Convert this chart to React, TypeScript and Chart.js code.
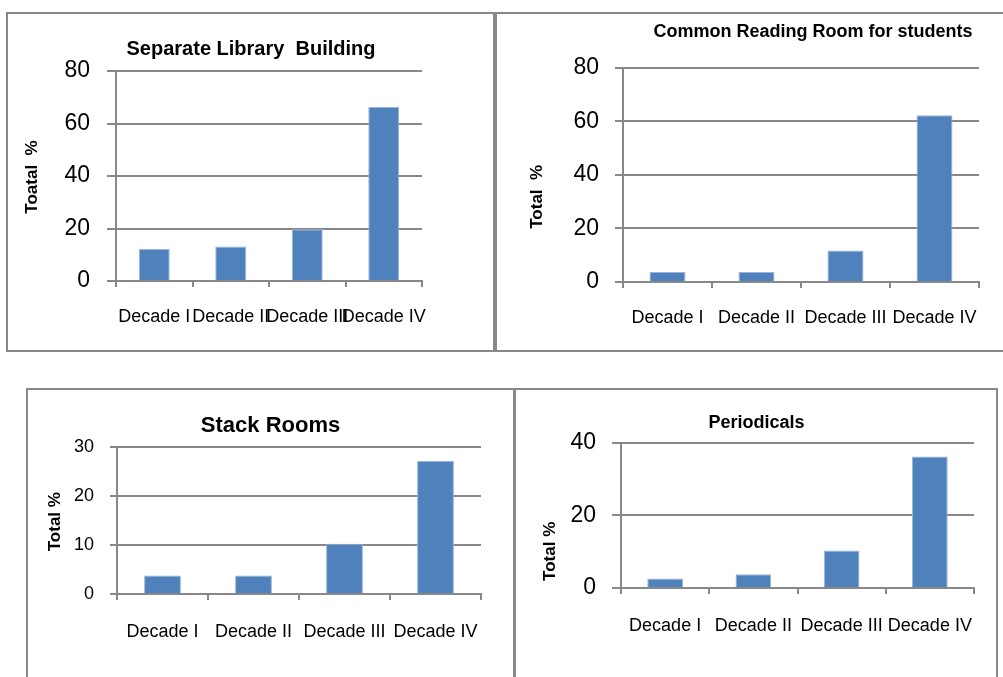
import React, { useEffect, useRef } from 'react';
import { Chart, registerables } from 'chart.js';

Chart.register(...registerables);

// ---------- data ----------
const categories = ['Decade I', 'Decade II', 'Decade III', 'Decade IV'];

const separateLibraryValues = [12.2, 13.1, 19.7, 66.4];
const commonReadingValues = [3.7, 3.7, 11.8, 62.2];
const stackRoomsValues = [3.8, 3.8, 10.3, 27.2];
const periodicalsValues = [2.6, 3.8, 10.3, 36.2];

const separateLibraryTicks = [0, 20, 40, 60, 80];
const commonReadingTicks = [0, 20, 40, 60, 80];
const stackRoomsTicks = [0, 10, 20, 30];
const periodicalsTicks = [0, 20, 40];

// ---------- style ----------
const FONT = "'Liberation Sans', Arial, sans-serif";
const GRID = '#888888';
const BAR = '#4F81BD';
const BAR_EDGE = '#9DB5DA';

type Box = { left: number; top: number; width: number; height: number };
type PanelSpec = {
  title: string;
  yTitle: string;
  values: number[];
  ticks: number[];
  box: Box;
  canvas: Box;
  pad: { left: number; right: number; bottom: number };
  yWidth: number;
  rightWidth: number;
  titleSize: number;
  titlePad: { top: number; bottom: number };
  tickSize: number;
  yTickLen: number;
  yTickPad: number;
  xTickPad: number;
  yTitleDx: number;
  yTitleDy: number;
};

const panels: PanelSpec[] = [
  {
    title: 'Separate Library  Building',
    yTitle: 'Toatal  %',
    values: separateLibraryValues,
    ticks: separateLibraryTicks,
    box: { left: 6, top: 12, width: 489, height: 340 },
    canvas: { left: 8, top: 14, width: 485, height: 336 },
    pad: { left: 52, right: 51, bottom: 9 },
    yWidth: 56,
    rightWidth: 20,
    titleSize: 20,
    titlePad: { top: 23, bottom: 10 },
    tickSize: 23,
    yTickLen: 9,
    yTickPad: 17,
    xTickPad: 19,
    yTitleDx: -84,
    yTitleDy: 1,
  },
  {
    title: 'Common Reading Room for students',
    yTitle: 'Total  %',
    values: commonReadingValues,
    ticks: commonReadingTicks,
    box: { left: 495, top: 12, width: 520, height: 340 },
    canvas: { left: 497, top: 14, width: 562, height: 336 },
    pad: { left: 70, right: 0, bottom: 8 },
    yWidth: 56,
    rightWidth: 80,
    titleSize: 18,
    titlePad: { top: 7, bottom: 25 },
    tickSize: 23,
    yTickLen: 8,
    yTickPad: 16,
    xTickPad: 19,
    yTitleDx: -86,
    yTitleDy: 22,
  },
  {
    title: 'Stack Rooms',
    yTitle: 'Total %',
    values: stackRoomsValues,
    ticks: stackRoomsTicks,
    box: { left: 26, top: 388, width: 489, height: 320 },
    canvas: { left: 28, top: 390, width: 485, height: 287 },
    pad: { left: 32, right: 32, bottom: 23 },
    yWidth: 57,
    rightWidth: 0,
    titleSize: 22,
    titlePad: { top: 23, bottom: 8 },
    tickSize: 18,
    yTickLen: 7,
    yTickPad: 16,
    xTickPad: 21,
    yTitleDx: -62,
    yTitleDy: 1,
  },
  {
    title: 'Periodicals',
    yTitle: 'Total %',
    values: periodicalsValues,
    ticks: periodicalsTicks,
    box: { left: 514, top: 388, width: 484, height: 320 },
    canvas: { left: 517, top: 390, width: 478, height: 287 },
    pad: { left: 22, right: 21, bottom: 29 },
    yWidth: 82,
    rightWidth: 0,
    titleSize: 18,
    titlePad: { top: 22, bottom: 9 },
    tickSize: 23,
    yTickLen: 9,
    yTickPad: 16,
    xTickPad: 21,
    yTitleDx: -71,
    yTitleDy: 36,
  },
];

const yAxisTitlePlugin = {
  id: 'yAxisTitle',
  afterDraw(chart: any, _args: any, opts: any) {
    const { ctx, chartArea } = chart;
    if (!chartArea || !opts || !opts.text) return;
    ctx.save();
    ctx.font = `bold ${opts.size}px ${FONT}`;
    ctx.fillStyle = '#000';
    ctx.textAlign = 'center';
    ctx.textBaseline = 'middle';
    ctx.translate(chartArea.left + opts.dx, (chartArea.top + chartArea.bottom) / 2 + opts.dy);
    ctx.rotate(-Math.PI / 2);
    ctx.fillText(opts.text, 0, 0);
    ctx.restore();
  },
};

function zeroPadding(s: any) {
  s.paddingLeft = 0;
  s.paddingRight = 0;
  s.paddingTop = 0;
  s.paddingBottom = 0;
}

function BarPanel({ spec }: { spec: PanelSpec }) {
  const ref = useRef<HTMLCanvasElement>(null);

  useEffect(() => {
    const canvas = ref.current;
    if (!canvas) return;
    const step = spec.ticks[1] - spec.ticks[0];
    const chart = new Chart(canvas, {
      type: 'bar',
      data: {
        labels: categories,
        datasets: [
          {
            data: spec.values,
            backgroundColor: BAR,
            borderColor: BAR_EDGE,
            borderWidth: 1,
            barPercentage: 0.405,
            categoryPercentage: 1,
            yAxisID: 'y',
          },
        ],
      },
      options: {
        animation: false,
        responsive: false,
        events: [],
        layout: {
          padding: { left: spec.pad.left, right: spec.pad.right, top: 0, bottom: spec.pad.bottom },
        },
        plugins: {
          legend: { display: false },
          tooltip: { enabled: false },
          title: {
            display: true,
            text: spec.title,
            align: 'center',
            color: '#000',
            font: { family: FONT, size: spec.titleSize, weight: 'bold', lineHeight: 1.2 },
            padding: { top: spec.titlePad.top, bottom: spec.titlePad.bottom },
          },
          yAxisTitle: { text: spec.yTitle, dx: spec.yTitleDx, dy: spec.yTitleDy, size: 17 },
        } as any,
        scales: {
          x: {
            offset: true,
            grid: {
              display: true,
              offset: true,
              drawOnChartArea: false,
              drawTicks: true,
              tickLength: 6,
              color: GRID,
              lineWidth: 2,
            },
            border: { display: true, color: GRID, width: 2 },
            ticks: {
              color: '#000',
              font: { family: FONT, size: 18 },
              padding: spec.xTickPad,
              autoSkip: false,
              maxRotation: 0,
              minRotation: 0,
            },
            afterFit: (s: any) => {
              s.height = 60;
              zeroPadding(s);
            },
          },
          y: {
            position: 'left',
            min: spec.ticks[0],
            max: spec.ticks[spec.ticks.length - 1],
            grid: {
              color: GRID,
              lineWidth: 2,
              drawTicks: true,
              tickLength: spec.yTickLen,
            },
            border: { display: true, color: GRID, width: 2 },
            ticks: {
              stepSize: step,
              color: '#000',
              font: { family: FONT, size: spec.tickSize },
              padding: spec.yTickPad,
            },
            afterFit: (s: any) => {
              s.width = spec.yWidth;
              zeroPadding(s);
            },
          },
          // empty spacer on the right so the title centre matches the original layout
          spacer: {
            type: 'linear',
            position: 'right',
            display: true,
            grid: { display: false, drawTicks: false },
            border: { display: false },
            ticks: { display: false },
            afterFit: (s: any) => {
              s.width = spec.rightWidth;
              zeroPadding(s);
            },
          },
        },
      },
      plugins: [yAxisTitlePlugin],
    } as any);
    return () => chart.destroy();
  }, [spec]);

  return (
    <>
      <div
        style={{
          position: 'absolute',
          left: spec.box.left,
          top: spec.box.top,
          width: spec.box.width,
          height: spec.box.height,
          border: `2px solid ${GRID}`,
          boxSizing: 'border-box',
        }}
      />
      <canvas
        ref={ref}
        width={spec.canvas.width}
        height={spec.canvas.height}
        style={{
          position: 'absolute',
          left: spec.canvas.left,
          top: spec.canvas.top,
          width: spec.canvas.width,
          height: spec.canvas.height,
        }}
      />
    </>
  );
}

export default function App() {
  return (
    <div
      style={{
        position: 'absolute',
        left: 0,
        top: 0,
        width: 1003,
        height: 677,
        overflow: 'hidden',
        background: '#fff',
      }}
    >
      {panels.map((p) => (
        <BarPanel key={p.title} spec={p} />
      ))}
    </div>
  );
}
